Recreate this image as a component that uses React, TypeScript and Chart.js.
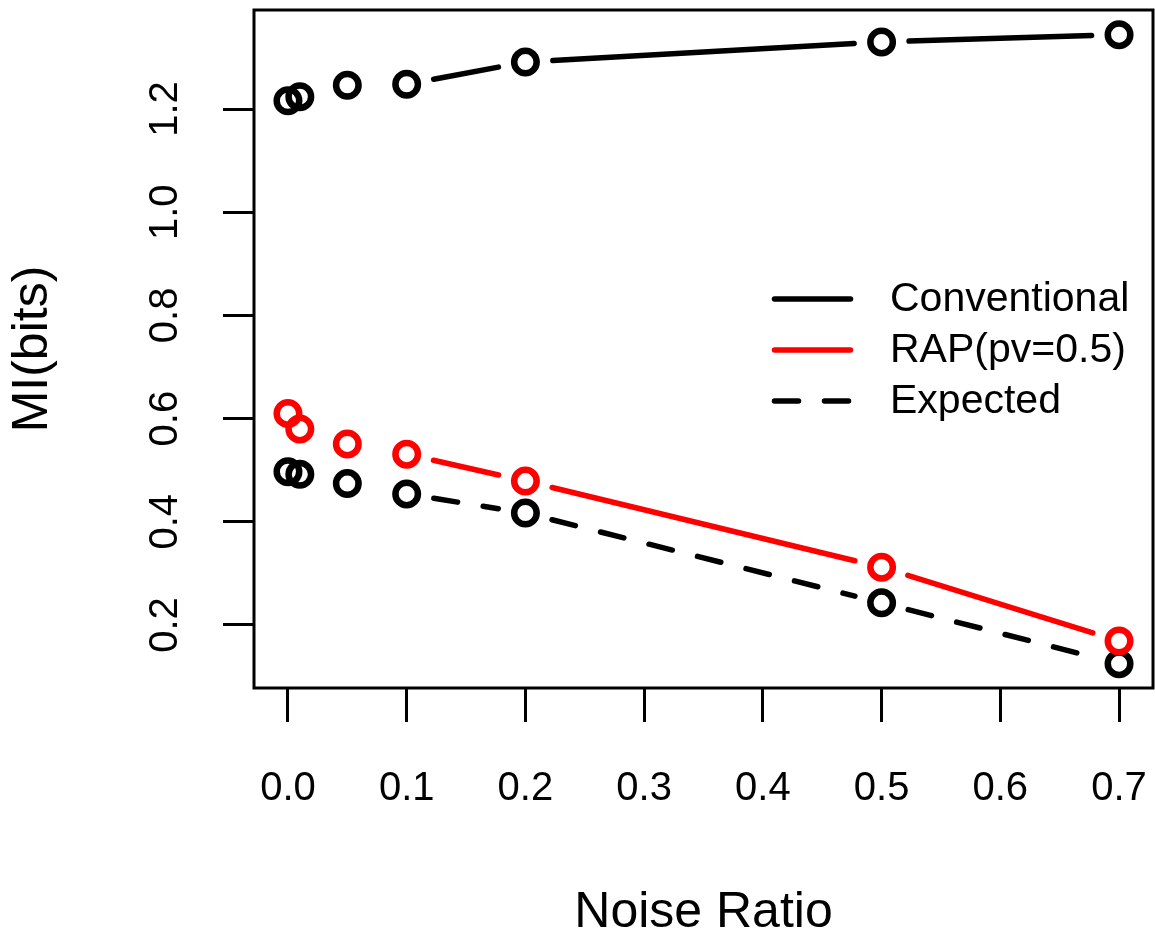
import React, { useEffect, useRef } from "react";
import { Chart, registerables } from "chart.js";

Chart.register(...registerables);

// ---- data ----
const noiseRatio = [0, 0.01, 0.05, 0.1, 0.2, 0.5, 0.7];
const conventional = [1.216, 1.224, 1.246, 1.248, 1.291, 1.33, 1.344];
const rap = [0.61, 0.58, 0.551, 0.531, 0.479, 0.312, 0.169];
const expected = [0.497, 0.492, 0.474, 0.454, 0.417, 0.243, 0.125];
const seriesLabels = ["Conventional", "RAP(pv=0.5)", "Expected"];
const seriesColors = ["#000000", "#ff0000", "#000000"];
const seriesDashes: number[][] = [[], [], [24, 26]];
const xTickStep = 0.1;
const yTickStep = 0.2;
const xTitle = "Noise Ratio";
const yTitle = "MI(bits)";

const FONT = "'Liberation Sans', Arial, Helvetica, sans-serif";
const GAP = 27.5;
const LINE_W = 5.5;

const toXY = (ys: number[]) => noiseRatio.map((x, i) => ({ x, y: ys[i] }));

const gapLinesPlugin = {
  id: "gapLines",
  beforeDatasetsDraw(chart: any) {
    const ctx = chart.ctx as CanvasRenderingContext2D;
    chart.data.datasets.forEach((ds: any, i: number) => {
      const pts = chart.getDatasetMeta(i).data;
      ctx.save();
      ctx.strokeStyle = ds.borderColor;
      ctx.lineWidth = LINE_W;
      ctx.lineCap = "round";
      ctx.setLineDash(ds.borderDash || []);
      for (let k = 0; k < pts.length - 1; k++) {
        const a = pts[k];
        const b = pts[k + 1];
        const dx = b.x - a.x;
        const dy = b.y - a.y;
        const len = Math.hypot(dx, dy);
        if (len < 2 * GAP + 10) continue;
        const ux = dx / len;
        const uy = dy / len;
        ctx.beginPath();
        ctx.moveTo(a.x + ux * GAP, a.y + uy * GAP);
        ctx.lineTo(b.x - ux * GAP, b.y - uy * GAP);
        ctx.stroke();
      }
      ctx.restore();
    });
  },
};

const boxPlugin = {
  id: "box",
  afterDatasetsDraw(chart: any) {
    const { ctx, chartArea } = chart;
    ctx.save();
    ctx.strokeStyle = "#000";
    ctx.lineWidth = 3;
    ctx.strokeRect(
      chartArea.left,
      chartArea.top,
      chartArea.right - chartArea.left,
      chartArea.bottom - chartArea.top
    );
    ctx.restore();
  },
};

const legendPlugin = {
  id: "rLegend",
  afterDraw(chart: any) {
    const { ctx, chartArea } = chart;
    const lineStart = chartArea.right - 378.5;
    const lineEnd = chartArea.right - 302.5;
    const textX = chartArea.right - 263;
    const firstRow = chartArea.top + 289;
    const rowStep = 51;
    ctx.save();
    chart.data.datasets.forEach((ds: any, i: number) => {
      const y = firstRow + i * rowStep;
      ctx.strokeStyle = ds.borderColor;
      ctx.lineWidth = LINE_W;
      ctx.lineCap = "round";
      ctx.setLineDash(ds.borderDash || []);
      ctx.beginPath();
      ctx.moveTo(lineStart, y);
      ctx.lineTo(lineEnd, y);
      ctx.stroke();
      ctx.setLineDash([]);
      ctx.fillStyle = "#000";
      ctx.font = `41px ${FONT}`;
      ctx.textAlign = "left";
      ctx.textBaseline = "middle";
      ctx.fillText(ds.label, textX, y + 1);
    });
    ctx.restore();
  },
};

export default function App() {
  const ref = useRef<HTMLCanvasElement>(null);

  useEffect(() => {
    const series = [conventional, rap, expected];
    const chart = new Chart(ref.current as HTMLCanvasElement, {
      type: "scatter",
      data: {
        datasets: series.map((ys, i) => ({
          label: seriesLabels[i],
          data: toXY(ys),
          borderColor: seriesColors[i],
          backgroundColor: "rgba(0,0,0,0)",
          pointBorderColor: seriesColors[i],
          pointBackgroundColor: "rgba(0,0,0,0)",
          pointRadius: 11.25,
          pointBorderWidth: 6.5,
          pointHoverRadius: 11.25,
          borderDash: seriesDashes[i],
          showLine: false,
          clip: false,
        })),
      },
      options: {
        responsive: false,
        animation: false,
        devicePixelRatio: 1,
        events: [],
        layout: {
          autoPadding: false,
          padding: { top: 10, right: 2, left: 0, bottom: 0 },
        },
        plugins: {
          legend: { display: false },
          tooltip: { enabled: false },
        },
        scales: {
          x: {
            type: "linear",
            min: -0.0286,
            max: 0.7286,
            afterFit: (s: any) => {
              s.height = 248;
              s.paddingLeft = 0;
              s.paddingRight = 0;
              s.paddingTop = 0;
              s.paddingBottom = 0;
            },
            border: { display: false },
            grid: {
              drawOnChartArea: false,
              drawTicks: true,
              tickLength: 34,
              tickWidth: 3,
              tickColor: "#000",
              color: "#000",
              lineWidth: 3,
            },
            ticks: {
              stepSize: xTickStep,
              includeBounds: false,
              autoSkip: false,
              maxRotation: 0,
              minRotation: 0,
              padding: 43,
              color: "#000",
              font: { family: FONT, size: 40 },
              callback: (v: any) => Number(v).toFixed(1),
            },
            title: {
              display: true,
              text: xTitle,
              color: "#000",
              font: { family: FONT, size: 50, lineHeight: 1 },
              padding: { top: 0, bottom: -2 },
            },
          },
          y: {
            type: "linear",
            min: 0.0779,
            max: 1.3919,
            afterFit: (s: any) => {
              s.width = 254;
              s.paddingLeft = 0;
              s.paddingRight = 0;
              s.paddingTop = 0;
              s.paddingBottom = 0;
            },
            border: { display: false },
            grid: {
              drawOnChartArea: false,
              drawTicks: true,
              tickLength: 31,
              tickWidth: 3,
              tickColor: "#000",
              color: "#000",
              lineWidth: 3,
            },
            ticks: {
              stepSize: yTickStep,
              includeBounds: false,
              autoSkip: false,
              minRotation: 90,
              maxRotation: 90,
              crossAlign: "center",
              padding: 29,
              color: "#000",
              font: { family: FONT, size: 40 },
              callback: (v: any) => Number(v).toFixed(1),
            },
            title: {
              display: true,
              text: yTitle,
              color: "#000",
              font: { family: FONT, size: 50, lineHeight: 1 },
              padding: { top: 8, bottom: 0 },
            },
          },
        },
      } as any,
      plugins: [gapLinesPlugin, boxPlugin, legendPlugin],
    });
    return () => chart.destroy();
  }, []);

  return (
    <div
      style={{
        position: "absolute",
        left: 0,
        top: 0,
        width: 1155,
        height: 936,
        background: "#fff",
      }}
    >
      <canvas ref={ref} width={1155} height={936} style={{ display: "block" }} />
    </div>
  );
}
